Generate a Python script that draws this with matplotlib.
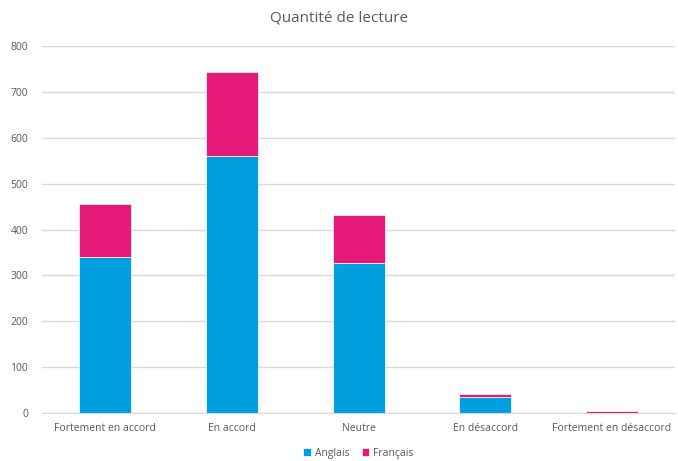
import matplotlib
matplotlib.use('Agg')
import matplotlib.pyplot as plt
import numpy as np

categories = ['Fortement en accord', 'En accord', 'Neutre', 'En désaccord', 'Fortement en désaccord']
anglais = [340, 560, 327, 35, 0]
francais = [115, 183, 104, 6, 5]

plt.rcParams['font.family'] = ['Open Sans', 'DejaVu Sans']

fig = plt.figure(figsize=(6.78, 4.61), dpi=100)
ax = fig.add_axes([0.062, 0.104, 0.934, 0.796])

x = np.arange(len(categories))
w = 0.41
ax.bar(x, anglais, w, color='#009fe0', label='Anglais', edgecolor='white', linewidth=0.5, zorder=2)
ax.bar(x, francais, w, bottom=anglais, color='#e5197a', label='Français', edgecolor='white', linewidth=0.5, zorder=2)

ax.set_xlim(-0.5, 4.5)
ax.set_ylim(0, 800)
ax.set_yticks(range(0, 801, 100))
ax.yaxis.grid(True, color='#d9d9d9', linewidth=1, zorder=0)
ax.set_xticks(x)
ax.set_xticklabels(categories)
for s in ['top', 'right', 'left']:
    ax.spines[s].set_visible(False)
ax.spines['bottom'].set_color('#d9d9d9')
ax.tick_params(length=0, labelsize=7.5, labelcolor='#595959')
ax.tick_params(axis='x', pad=7)
ax.tick_params(axis='y', pad=10)

fig.text(0.5, 0.96, 'Quantité de lecture', ha='center', va='center', fontsize=11, color='#595959')
ax.legend(loc='upper center', bbox_to_anchor=(0.5, -0.083), ncol=2, frameon=False,
          fontsize=7.5, labelcolor='#595959', handlelength=0.7, handleheight=0.7,
          columnspacing=1.2, handletextpad=0.4, borderaxespad=0)

fig.savefig('out.png', dpi=100)
